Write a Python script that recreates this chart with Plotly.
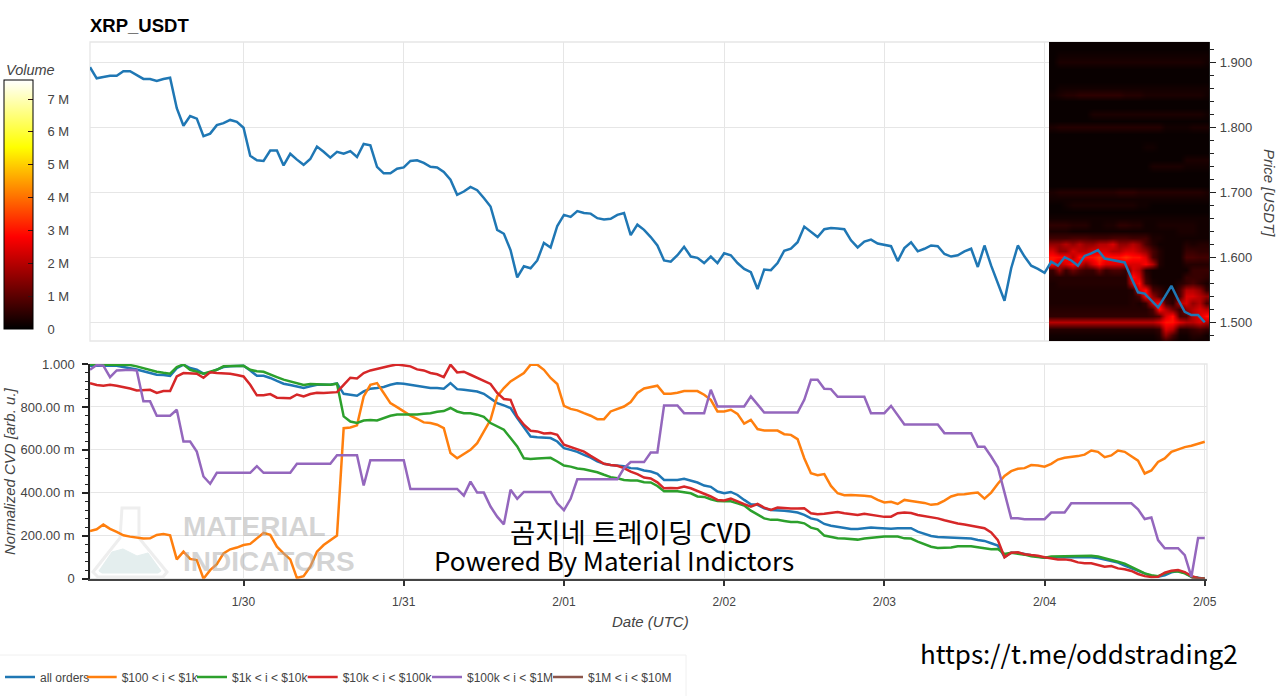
# XRP_USDT price + order book heatmap, normalized CVD by order size
import pandas as pd
import plotly.graph_objects as go
from plotly.subplots import make_subplots

W = 1280
H = 696

# hourly samples, 1/29 01:00 to 2/05 00:00
times = pd.date_range("2018-01-29 01:00", periods=168, freq="h")
day_ticks = pd.date_range("2018-01-30", "2018-02-05", freq="D")
day_labels = ["1/30", "1/31", "2/01", "2/02", "2/03", "2/04", "2/05"]

price = [
    1.892, 1.875, 1.877, 1.879, 1.879, 1.886, 1.886, 1.880, 1.874, 1.874, 1.871, 1.874,
    1.876, 1.829, 1.802, 1.817, 1.813, 1.786, 1.790, 1.803, 1.806, 1.811, 1.808, 1.799,
    1.756, 1.749, 1.748, 1.764, 1.764, 1.741, 1.759, 1.750, 1.742, 1.751, 1.770, 1.762,
    1.753, 1.762, 1.759, 1.763, 1.754, 1.774, 1.772, 1.739, 1.729, 1.729, 1.736, 1.738,
    1.748, 1.749, 1.745, 1.739, 1.738, 1.731, 1.719, 1.696, 1.701, 1.708, 1.703, 1.691,
    1.678, 1.642, 1.636, 1.611, 1.569, 1.586, 1.583, 1.595, 1.622, 1.615, 1.648, 1.665,
    1.662, 1.671, 1.668, 1.667, 1.660, 1.658, 1.659, 1.665, 1.668, 1.634, 1.650, 1.642,
    1.631, 1.618, 1.595, 1.593, 1.603, 1.616, 1.601, 1.599, 1.591, 1.601, 1.591, 1.606,
    1.603, 1.591, 1.582, 1.577, 1.551, 1.581, 1.580, 1.591, 1.610, 1.613, 1.623, 1.647,
    1.639, 1.631, 1.643, 1.645, 1.644, 1.643, 1.626, 1.615, 1.624, 1.627, 1.621, 1.619,
    1.617, 1.594, 1.614, 1.623, 1.609, 1.613, 1.618, 1.617, 1.605, 1.601, 1.603, 1.609,
    1.613, 1.585, 1.618, 1.587, 1.559, 1.533, 1.583, 1.618, 1.601, 1.587, 1.582, 1.576,
    1.593, 1.587, 1.600, 1.595, 1.587, 1.602, 1.606, 1.611, 1.598, 1.596, 1.593, 1.592,
    1.568, 1.546, 1.544, 1.533, 1.523, 1.539, 1.556, 1.535, 1.516, 1.511, 1.511, 1.500,
]

all_orders = [
    .992, .992, .994, .994, .992, .986, .981, .974, .966, .958, .950, .949,
    .945, .981, .997, .981, .974, .955, .961, .974, .986, .989, .989, .992,
    .970, .945, .945, .935, .921, .908, .902, .896, .888, .896, .903, .903,
    .903, .910, .861, .857, .852, .872, .885, .888, .893, .903, .910, .908,
    .903, .896, .891, .888, .888, .885, .911, .883, .880, .877, .872, .861,
    .841, .818, .807, .795, .748, .706, .662, .659, .656, .655, .639, .608,
    .600, .591, .577, .564, .546, .535, .530, .527, .524, .515, .513, .504,
    .499, .488, .460, .460, .460, .465, .457, .448, .434, .428, .406, .398,
    .404, .390, .367, .347, .344, .328, .320, .319, .316, .313, .308, .297,
    .281, .274, .255, .247, .241, .236, .232, .232, .235, .238, .236, .233,
    .233, .235, .235, .235, .219, .210, .199, .194, .193, .193, .191, .190,
    .187, .180, .176, .165, .154, .101, .121, .121, .114, .107, .103, .098,
    .100, .100, .100, .100, .101, .101, .100, .096, .090, .082, .075, .061,
    .048, .036, .022, .012, .009, .016, .030, .036, .028, .009, .005, 0,
]

size_100_1k = [
    .222, .230, .252, .232, .218, .202, .196, .191, .187, .188, .204, .208,
    .202, .090, .126, .092, .087, 0, .040, .068, .118, .137, .145, .157,
    .162, .188, .213, .204, .149, .118, .090, .003, .012, .056, .126, .157,
    .177, .201, .701, .704, .714, .849, .903, .911, .865, .818, .799, .779,
    .760, .745, .728, .725, .717, .701, .585, .561, .580, .600, .631, .686,
    .740, .849, .888, .919, .938, .958, .997, .997, .973, .935, .907, .805,
    .791, .784, .771, .759, .743, .743, .779, .791, .802, .823, .865, .886,
    .891, .899, .861, .861, .866, .874, .874, .874, .857, .833, .779, .779,
    .787, .768, .722, .740, .697, .690, .690, .690, .673, .670, .650, .561,
    .491, .482, .487, .432, .398, .389, .390, .389, .386, .383, .367, .355,
    .358, .348, .367, .362, .359, .353, .344, .348, .364, .383, .392, .393,
    .398, .401, .373, .401, .442, .479, .501, .512, .515, .529, .527, .522,
    .535, .555, .563, .566, .571, .578, .597, .591, .566, .574, .597, .591,
    .572, .550, .490, .504, .544, .560, .591, .602, .613, .619, .628, .638,
]

size_1k_10k = [
    .998, .998, .998, .998, .998, .998, .995, .989, .980, .970, .964, .959,
    .955, .986, .998, .973, .964, .955, .964, .973, .989, .990, .990, .992,
    .973, .966, .964, .950, .939, .927, .919, .911, .902, .907, .905, .903,
    .903, .908, .756, .732, .725, .737, .739, .737, .748, .759, .765, .764,
    .764, .765, .768, .771, .778, .781, .795, .779, .771, .771, .764, .754,
    .725, .709, .694, .655, .616, .561, .557, .560, .560, .563, .546, .527,
    .522, .513, .510, .504, .496, .484, .473, .468, .460, .457, .457, .449,
    .448, .432, .407, .407, .407, .403, .398, .383, .381, .370, .362, .361,
    .361, .351, .341, .317, .297, .281, .274, .274, .269, .264, .264, .258,
    .238, .230, .201, .194, .188, .187, .183, .182, .187, .191, .194, .196,
    .196, .196, .188, .187, .173, .162, .149, .143, .143, .145, .151, .151,
    .151, .146, .142, .137, .138, .115, .121, .118, .112, .104, .100, .098,
    .103, .104, .103, .104, .107, .107, .107, .103, .095, .090, .079, .070,
    .053, .040, .025, .016, .012, .025, .033, .033, .025, .009, .003, 0,
]

size_10k_100k = [
    .911, .902, .899, .903, .899, .893, .886, .877, .880, .880, .865, .874,
    .874, .942, .958, .955, .955, .936, .961, .958, .956, .955, .949, .942,
    .903, .854, .855, .860, .843, .841, .841, .858, .849, .860, .866, .865,
    .866, .869, .903, .936, .933, .958, .970, .978, .983, .992, .998, .995,
    .989, .975, .970, .958, .952, .939, .997, .961, .964, .950, .936, .919,
    .907, .865, .837, .833, .756, .717, .689, .686, .676, .678, .670, .624,
    .613, .600, .592, .572, .554, .535, .530, .526, .515, .499, .487, .471,
    .467, .449, .421, .423, .421, .429, .421, .409, .398, .383, .367, .364,
    .373, .359, .347, .336, .348, .331, .320, .331, .328, .327, .327, .328,
    .305, .300, .302, .308, .311, .305, .300, .297, .303, .297, .291, .288,
    .289, .305, .308, .306, .297, .292, .289, .281, .272, .264, .257, .252,
    .247, .241, .235, .215, .180, .100, .121, .123, .114, .110, .107, .100,
    .095, .090, .090, .086, .076, .072, .072, .064, .056, .059, .048, .044,
    .036, .022, .012, .008, .009, .028, .037, .040, .031, .012, .003, 0,
]

size_100k_1m = [
    .973, .995, .992, .939, .970, .973, .973, .970, .826, .826, .759, .759,
    .759, .787, .639, .639, .592, .476, .442, .493, .493, .493, .493, .493,
    .493, .524, .493, .493, .493, .493, .493, .535, .535, .535, .535, .535,
    .535, .575, .575, .575, .575, .434, .552, .552, .552, .552, .552, .552,
    .418, .418, .418, .418, .418, .418, .418, .418, .387, .452, .401, .401,
    .336, .289, .253, .414, .372, .404, .404, .404, .404, .404, .351, .319,
    .372, .463, .463, .463, .463, .463, .463, .463, .515, .543, .543, .543,
    .588, .588, .807, .807, .807, .771, .771, .771, .771, .880, .802, .802,
    .802, .802, .802, .849, .810, .774, .774, .774, .774, .774, .774, .833,
    .927, .927, .885, .883, .847, .847, .847, .847, .847, .771, .771, .771,
    .805, .764, .718, .718, .718, .718, .718, .718, .678, .678, .678, .678,
    .678, .614, .614, .569, .519, .401, .281, .281, .277, .277, .277, .277,
    .308, .308, .308, .351, .351, .351, .351, .351, .351, .351, .351, .351,
    .351, .323, .278, .285, .180, .142, .142, .142, .110, .009, .190, .190,
]

size_1m_10m = [None] * 165 + [0, 0, 0]

series_names = ["all orders", "$100 < i < $1k", "$1k < i < $10k",
                "$10k < i < $100k", "$100k < i < $1M", "$1M < i < $10M"]
series_values = [all_orders, size_100_1k, size_1k_10k,
                 size_10k_100k, size_100k_1m, size_1m_10m]
series_colors = ["#1f77b4", "#ff7f0e", "#2ca02c", "#d62728", "#9467bd", "#8c564b"]
# left edge of each legend entry, pixels
legend_left = [0, 81.7, 192, 302.7, 427, 548]

# order book volume, one row per price level, one char per hour,
# base 36 in units of 100k
heat_prices = [1.93, 1.92, 1.91, 1.90, 1.89, 1.88, 1.87, 1.86, 1.85, 1.84, 1.83, 1.82,
               1.81, 1.80, 1.79, 1.78, 1.77, 1.76, 1.75, 1.74, 1.73, 1.72, 1.71, 1.70,
               1.69, 1.68, 1.67, 1.66, 1.65, 1.64, 1.63, 1.62, 1.61, 1.60, 1.59, 1.58,
               1.57, 1.56, 1.55, 1.54, 1.53, 1.52, 1.51, 1.50, 1.49, 1.48, 1.47]
heat_rows = [
    "111111111111111111111111",
    "111111111111111111111111",
    "122222222222222222222222",
    "133333333333333333333332",
    "111111111111111111111111",
    "111111111111111111111111",
    "111111111111111111111111",
    "122222222222222222222222",
    "234455555554443333333332",
    "111111111111111111111111",
    "111111111111111111111111",
    "111111333333333333333332",
    "111111111111111111111111",
    "344444444444444442222333",
    "111111111111111111111111",
    "111111111111111111111111",
    "111111111111112211111111",
    "111111111111111111111111",
    "111111111111111111113333",
    "111111111111111333332222",
    "111111111111111111111111",
    "111111111111111111111111",
    "111111111111111111111111",
    "344444444455544444444443",
    "222222222222222222222222",
    "112333333333322111111111",
    "111111111111111111111111",
    "222222222222222222222222",
    "555444223355442233333322",
    "333222222222222222233322",
    "777888777888777332222222",
    "ggkgkggkkoggkg8422224344",
    "oggokkoookkookg842226655",
    "utukuuuxuuuxuuo842228877",
    "ukouogouoooooosk42224444",
    "6g6c866c6886ok4222222666",
    "444444444444uo6222226665",
    "344444444444ou8322246853",
    "3333333333334ou86328kkg6",
    "33333333333348ug8448ookg",
    "333333333333436ou84kogk8",
    "4444444444444448ukc6gkok",
    "55555555555555569ou88kou",
    "kkkkkkkkkkkkkkkkouuokkok",
    "44444444444444446ok44686",
    "22222222222222224g822442",
    "111111111111111124211212",
]
heat_edges = pd.date_range("2018-02-04 00:40", periods=25, freq="h")
volume_ticks = [0, 1e6, 2e6, 3e6, 4e6, 5e6, 6e6, 7e6]
volume_labels = ["0", "1 M", "2 M", "3 M", "4 M", "5 M", "6 M", "7 M"]

price_ticks = [1.5, 1.6, 1.7, 1.8, 1.9]
cvd_ticks = [0, 0.2, 0.4, 0.6, 0.8, 1.0]
cvd_labels = ["0", "200.00 m", "400.00 m", "600.00 m", "800.00 m", "1.000"]

for vals in [price] + series_values:
    assert len(vals) == 168, len(vals)
for row in heat_rows:
    assert len(row) == 24, row
assert len(heat_rows) == len(heat_prices)

FONT = "Liberation Sans"
GRID = "#e6e6e6"


def px(x):
    return x / W


def py(y):
    return 1 - y / H


def path(points):
    return "M " + " L ".join(f"{px(x):.5f},{py(y):.5f}" for x, y in points) + " Z"


fig = make_subplots(rows=2, cols=1)

volume = [[int(c, 36) * 1e5 for c in row] for row in heat_rows[::-1]]
fig.add_trace(go.Heatmap(
    x=heat_edges, y=heat_prices[::-1], z=volume, zmin=0, zmax=7.58e6, zsmooth="best",
    colorscale=[[0, "#000000"], [0.37, "#ff0000"], [0.73, "#ffff00"], [1, "#ffffff"]],
    hoverinfo="skip",
    colorbar=dict(
        x=px(4), xanchor="left", xpad=0, y=py(329), yanchor="bottom", ypad=0,
        len=249, lenmode="pixels", thickness=29, thicknessmode="pixels",
        outlinecolor="#000000", outlinewidth=1,
        tickvals=volume_ticks,
        ticktext=["\u00a0\u00a0\u00a0" + t for t in volume_labels],
        ticks="inside", ticklen=5, tickcolor="#331111",
        tickfont=dict(family=FONT, size=13, color="#444444"),
    ),
), row=1, col=1)
fig.add_trace(go.Scatter(x=times, y=price, mode="lines", showlegend=False,
                         line=dict(color="#1f77b4", width=2.5)), row=1, col=1)

for i, name in enumerate(series_names):
    fig.add_trace(go.Scatter(
        x=times, y=series_values[i], mode="lines", name=name, cliponaxis=False,
        line=dict(color=series_colors[i], width=2.5),
        legend="legend" if i == 0 else f"legend{i + 1}",
    ), row=2, col=1)

legends = {}
for i, left in enumerate(legend_left):
    key = "legend" if i == 0 else f"legend{i + 1}"
    legends[key] = dict(
        x=px(left), xanchor="left", y=py(677), yanchor="middle", orientation="h",
        bgcolor="rgba(0,0,0,0)", font=dict(family=FONT, size=12, color="#444444"),
    )

fig.update_layout(
    width=W, height=H, template="none", showlegend=True,
    margin=dict(l=0, r=0, t=0, b=0), plot_bgcolor="#ffffff", paper_bgcolor="#ffffff",
    font=dict(family=FONT, size=13, color="#444444"),
    **legends,
)

fig.update_xaxes(
    row=1, col=1, domain=[px(90), px(1209)], type="date",
    range=["2018-01-29 01:00", "2018-02-05 00:38"],
    tickvals=day_ticks, showticklabels=False, ticks="",
    showgrid=True, gridcolor=GRID, gridwidth=1.3, zeroline=False, showline=False,
)
fig.update_yaxes(
    row=1, col=1, domain=[py(341), py(42)], range=[1.4712, 1.9308], side="right",
    tickvals=price_ticks, ticktext=[f"{v:.3f}" for v in price_ticks],
    showgrid=True, gridcolor=GRID, gridwidth=1.3, zeroline=False,
    showline=True, linecolor="#222222", linewidth=1.2,
    ticks="outside", ticklen=6, tickwidth=1.2, tickcolor="#222222", ticklabelstandoff=1,
    tickfont=dict(family=FONT, size=13, color="#444444"),
    minor=dict(tick0=1.5, dtick=0.02, ticks="outside", ticklen=4, tickwidth=1,
               tickcolor="#222222", showgrid=False),
)
fig.update_xaxes(
    row=2, col=1, domain=[px(90), px(1207)], type="date",
    range=["2018-01-29 01:00", "2018-02-05 00:20"],
    tickvals=day_ticks, ticktext=day_labels,
    showgrid=True, gridcolor=GRID, gridwidth=1.3, zeroline=False,
    showline=True, linecolor="#444444", linewidth=1.5,
    ticks="outside", ticklen=6, tickwidth=1.5, tickcolor="#333333", ticklabelstandoff=5,
    tickfont=dict(family=FONT, size=12, color="#444444"),
)
fig.update_yaxes(
    row=2, col=1, domain=[py(578.7), py(364)], range=[0, 1],
    tickvals=cvd_ticks, ticktext=cvd_labels,
    showgrid=True, gridcolor=GRID, gridwidth=1.3, zeroline=False,
    showline=True, linecolor="#222222", linewidth=1.5,
    ticks="outside", ticklen=6, tickwidth=1.5, tickcolor="#222222", ticklabelstandoff=5,
    tickfont=dict(family=FONT, size=13, color="#444444"),
    minor=dict(tick0=0, dtick=0.04, ticks="outside", ticklen=3, tickwidth=1,
               tickcolor="#222222", showgrid=False),
)

# panel outlines, legend frame, watermark flask
shapes = [
    dict(type="rect", xref="paper", yref="paper", x0=px(90), x1=px(1209), y0=py(341), y1=py(42),
         line=dict(color=GRID, width=1.3), layer="below"),
    dict(type="rect", xref="paper", yref="paper", x0=px(90), x1=px(1207), y0=py(578.7), y1=py(364),
         line=dict(color=GRID, width=1.3), layer="below"),
    dict(type="rect", xref="paper", yref="paper", x0=px(-5), x1=px(686), y0=py(700), y1=py(655),
         line=dict(color="#f0f0f0", width=1), layer="below"),
    dict(type="path", xref="paper", yref="paper", layer="below",
         path=path([(122, 508), (139, 508), (139, 538), (167, 572), (163, 577), (98, 577),
                    (93, 572), (120, 538)]),
         line=dict(color="#eeeeee", width=3), fillcolor="#ffffff"),
    dict(type="path", xref="paper", yref="paper", layer="below",
         path=path([(99, 571), (112, 552), (123, 549), (137, 556), (148, 553), (161, 571),
                    (158, 573), (102, 573)]),
         line=dict(color="#e4eeee", width=1), fillcolor="#e4eeee"),
]

annotations = [
    dict(text="<b>XRP_USDT</b>", x=88, y=26, size=18.5, color="#000000", anchor="left"),
    dict(text="<i>Volume</i>", x=4, y=70, size=14.5, color="#444444", anchor="left"),
    dict(text="<i>Date (UTC)</i>", x=650, y=621, size=15, color="#444444", anchor="center"),
    dict(text="<i>Price [USDT]</i>", x=1270, y=193, size=15, color="#444444", anchor="center", angle=90),
    dict(text="<i>Normalized CVD [arb. u.]</i>", x=9, y=471, size=15, color="#444444", anchor="center", angle=-90),
    dict(text="<b>MATERIAL</b>", x=181, y=526, size=28, color="rgba(170,170,170,0.5)", anchor="left"),
    dict(text="<b>INDICATORS</b>", x=181, y=561, size=28, color="rgba(170,170,170,0.5)", anchor="left"),
    dict(text="곰지네 트레이딩 CVD", x=631, y=531, size=27.5, color="#000000", anchor="center",
         family="Noto Sans CJK KR"),
    dict(text="Powered By Material Indictors", x=614, y=559, size=26, color="#000000", anchor="center",
         family="Noto Sans CJK KR"),
    dict(text="https://t.me/oddstrading2", x=918, y=652, size=26, color="#000000", anchor="left",
         family="Noto Sans CJK KR"),
]
for a in annotations:
    fig.add_annotation(
        text=a["text"], xref="paper", yref="paper", x=px(a["x"]), y=py(a["y"]),
        xanchor=a["anchor"], yanchor="middle", showarrow=False, textangle=a.get("angle", 0),
        font=dict(family=a.get("family", FONT), size=a["size"], color=a["color"]),
    )

fig.update_layout(shapes=shapes)

fig.write_html("out.html", config={"displayModeBar": False},
               post_script="document.body.style.margin='0';")
